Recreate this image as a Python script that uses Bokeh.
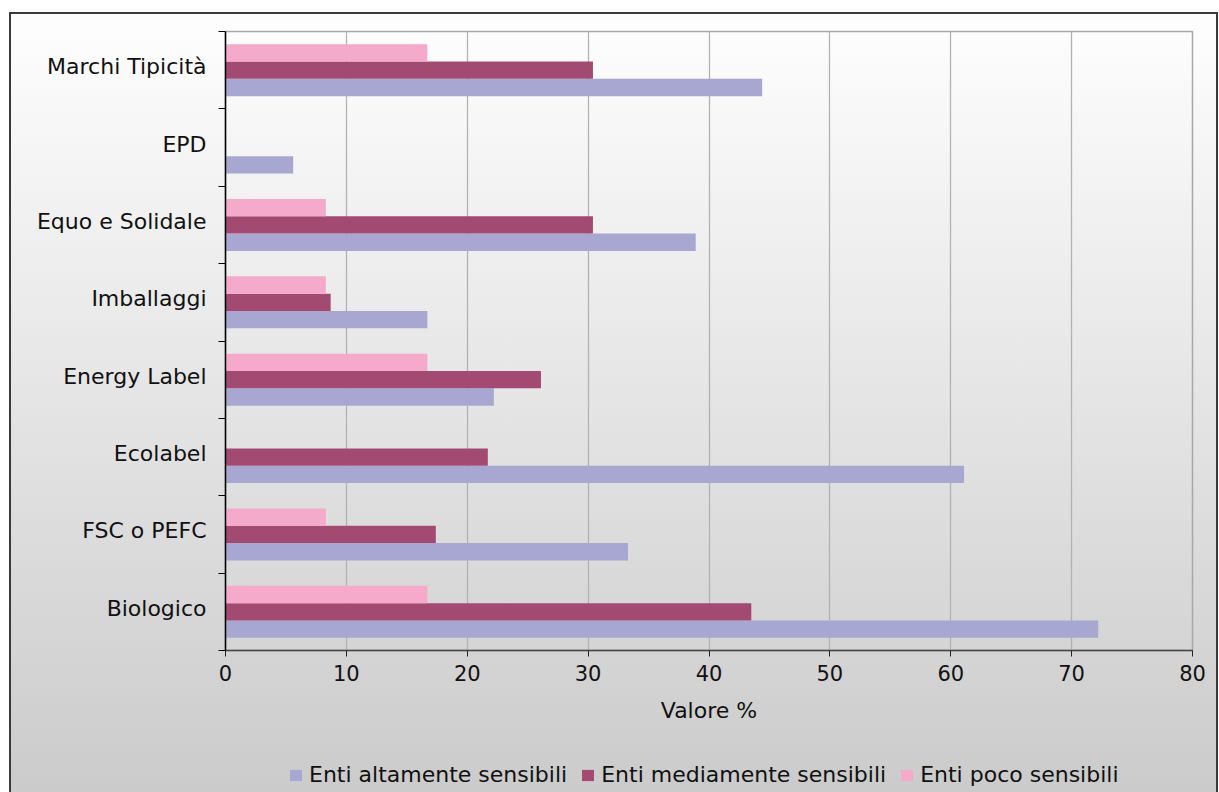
from bokeh.plotting import figure
from bokeh.models import Range1d, FixedTicker, Legend, LegendItem, ColumnDataSource
from bokeh.layouts import column
from bokeh.embed import file_html
from bokeh.resources import INLINE

categories = ["Biologico", "FSC o PEFC", "Ecolabel", "Energy Label", "Imballaggi",
              "Equo e Solidale", "EPD", "Marchi Tipicità"]
alto = [72.2, 33.3, 61.1, 22.2, 16.7, 38.9, 5.6, 44.4]
medio = [43.5, 17.4, 21.7, 26.1, 8.7, 30.4, 0.0, 30.4]
poco = [16.7, 8.3, 0.0, 16.7, 8.3, 8.3, 0.0, 16.7]
series_names = ["Enti altamente sensibili", "Enti mediamente sensibili", "Enti poco sensibili"]
series_colors = ["#a7a7d2", "#a34a72", "#f5aacc"]
x_ticks = [0, 10, 20, 30, 40, 50, 60, 70, 80]
x_label = "Valore %"

FONT = "DejaVu Sans"
TXT = "#111111"
n = len(categories)
centers = [i + 0.5 for i in range(n)]
label_pos = [c + 0.045 for c in centers]
bar_h = 0.224
offsets = [-bar_h, 0.0, bar_h]

MAIN_H = 742
LEG_H = 792 - MAIN_H

p = figure(width=1219, height=MAIN_H, x_range=Range1d(0, 80), y_range=Range1d(0, n),
           output_backend="svg", toolbar_location=None,
           min_border_left=225, min_border_right=27, min_border_top=31,
           min_border_bottom=MAIN_H - 650)
p.title.visible = False
p.background_fill_alpha = 0
p.border_fill_alpha = 0
p.outline_line_color = "#a8a8a8"
p.outline_line_width = 1.5

for vals, name, col, off in zip([alto, medio, poco], series_names, series_colors, offsets):
    src = ColumnDataSource(dict(y=[c + off for c in centers], right=vals, cat=categories))
    p.hbar(y="y", left=0, right="right", height=bar_h, source=src,
           fill_color=col, line_color=None)

# x axis
p.xaxis.ticker = FixedTicker(ticks=x_ticks)
p.xaxis.axis_label = x_label
p.xaxis.axis_label_text_font = FONT
p.xaxis.axis_label_text_font_size = "22px"
p.xaxis.axis_label_text_font_style = "normal"
p.xaxis.axis_label_text_color = TXT
p.xaxis.axis_label_standoff = 14
p.xaxis.major_label_text_font = FONT
p.xaxis.major_label_text_font_size = "21px"
p.xaxis.major_label_text_color = TXT
p.xaxis.major_label_standoff = 8
p.xaxis.major_tick_out = 6
p.xaxis.major_tick_in = 0
p.xaxis.minor_tick_out = 0
p.xaxis.minor_tick_in = 0
p.xaxis.axis_line_color = "#444444"
p.xaxis.axis_line_width = 1.5
p.xaxis.major_tick_line_color = "#222222"

# y axis: labels at band centres, tick marks at band boundaries
p.yaxis.ticker = FixedTicker(ticks=label_pos, minor_ticks=list(range(n + 1)))
p.yaxis.major_label_overrides = {c: lab for c, lab in zip(label_pos, categories)}
p.yaxis.major_label_text_font = FONT
p.yaxis.major_label_text_font_size = "22px"
p.yaxis.major_label_text_color = TXT
p.yaxis.major_label_standoff = 12
p.yaxis.major_tick_out = 0
p.yaxis.major_tick_in = 0
p.yaxis.minor_tick_out = 7
p.yaxis.minor_tick_in = 0
p.yaxis.minor_tick_line_color = "#000000"
p.yaxis.minor_tick_line_width = 1.2
p.yaxis.axis_line_color = "#000000"
p.yaxis.axis_line_width = 1.5

p.xgrid.grid_line_color = "#b2b2b2"
p.xgrid.grid_line_width = 1.3
p.ygrid.grid_line_color = None

# legend strip (its frame is aligned with the main frame by the column layout)
lf = figure(width=1219, height=LEG_H, x_range=Range1d(0, 80), y_range=Range1d(0, 1),
            output_backend="svg", toolbar_location=None,
            min_border_left=225, min_border_right=27, min_border_top=0, min_border_bottom=0)
lf.title.visible = False
lf.axis.visible = False
lf.grid.visible = False
lf.outline_line_color = None
lf.background_fill_alpha = 0
lf.border_fill_alpha = 0

items = []
for name, col in zip(series_names, series_colors):
    # legend-only renderer: a single undefined (NaN) row, so nothing is drawn in the strip
    key_src = ColumnDataSource(dict(y=[float("nan")], right=[float("nan")]))
    r = lf.hbar(y="y", left=0, right="right", height=bar_h, source=key_src,
                fill_color=col, line_color=None)
    items.append(LegendItem(label=name, renderers=[r]))

legend = Legend(items=items, orientation="horizontal", location=(63, 5),
                glyph_width=15, glyph_height=14, label_standoff=6, spacing=13,
                padding=0, margin=0, border_line_alpha=0, background_fill_alpha=0,
                label_text_font=FONT, label_text_font_size="22px", label_text_color=TXT)
lf.add_layout(legend, "center")

layout = column(p, lf, spacing=0)
layout.styles = {
    "background": ("linear-gradient(#3a3a3a,#3a3a3a) 9px 12px / 1209px 2px no-repeat, "
                   "linear-gradient(#3a3a3a,#3a3a3a) 9px 12px / 2px 780px no-repeat, "
                   "linear-gradient(#3a3a3a,#3a3a3a) 1216px 12px / 2px 780px no-repeat, "
                   "linear-gradient(#fefefe, #cbcbcb) 9px 12px / 1209px 780px no-repeat, #ffffff")
}

open("out.html", "w").write(file_html(layout, INLINE))
